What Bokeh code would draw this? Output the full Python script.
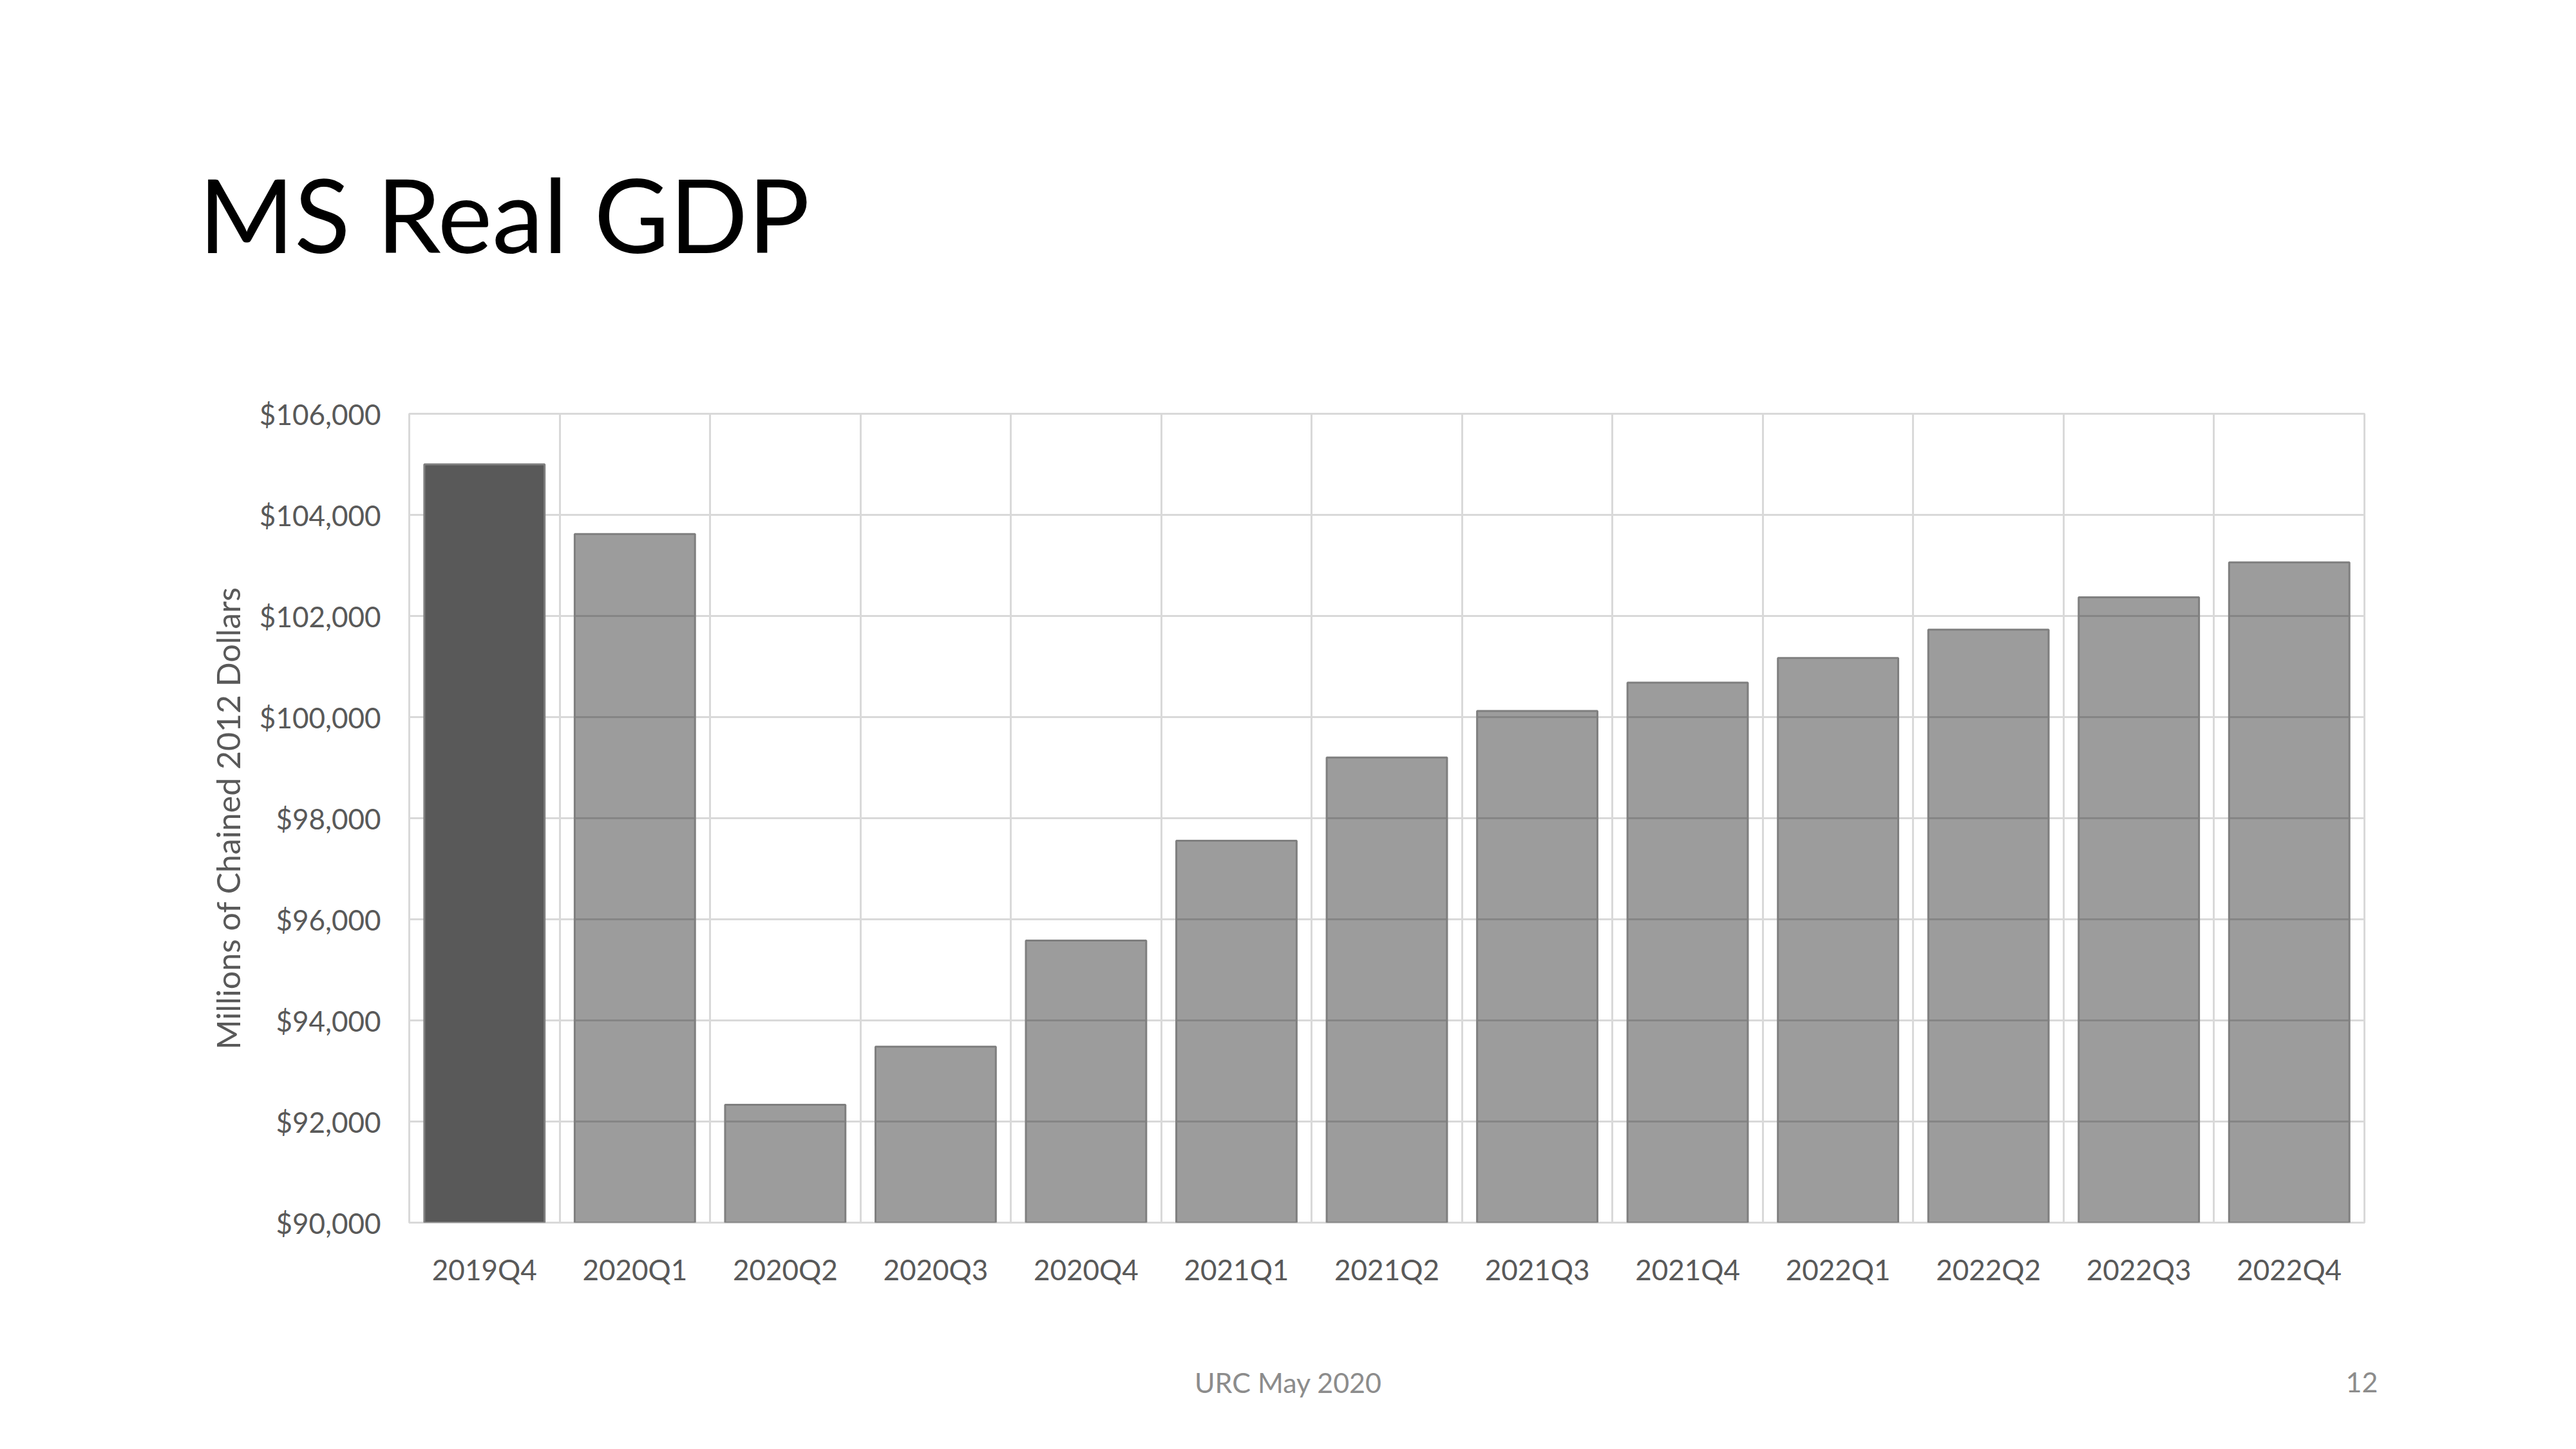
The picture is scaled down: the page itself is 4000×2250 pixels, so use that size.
from bokeh.plotting import figure
from bokeh.models import ColumnDataSource, Range1d, FixedTicker, NumeralTickFormatter, Label
from bokeh.embed import file_html
from bokeh.resources import INLINE

# data
quarters = ["2019Q4", "2020Q1", "2020Q2", "2020Q3", "2020Q4", "2021Q1", "2021Q2",
            "2021Q3", "2021Q4", "2022Q1", "2022Q2", "2022Q3", "2022Q4"]
gdp = [105000, 103620, 92330, 93480, 95580, 97555, 99200,
       100120, 100680, 101170, 101730, 102370, 103060]
actual_quarters = ["2019Q4"]
y_ticks = [90000, 92000, 94000, 96000, 98000, 100000, 102000, 104000, 106000]

title_text = "MS Real GDP"
y_title = "Millions of Chained 2012 Dollars"
footer_text = "URC May 2020"
slide_number = "12"

# layout (canvas pixels)
W, H = 3984, 2234
FRAME_L, FRAME_T, FRAME_R, FRAME_B = 635, 642, 3671, 1898
FONT = "Lato"
GRID = "#d9d9d9"
TXT = "#595959"

y_lo, y_hi = y_ticks[0], y_ticks[-1]

fills = ["#595959" if q in actual_quarters else "black" for q in quarters]
alphas = [1.0 if q in actual_quarters else 0.39 for q in quarters]
source = ColumnDataSource(data=dict(quarter=quarters, gdp=gdp, fill=fills, alpha=alphas))

p = figure(width=W, height=H, x_range=quarters, y_range=Range1d(y_lo, y_hi),
           output_backend="svg", toolbar_location=None,
           min_border_left=FRAME_L, min_border_right=W - FRAME_R,
           min_border_top=FRAME_T, min_border_bottom=H - FRAME_B)
p.background_fill_color = "white"
p.border_fill_color = "white"
p.outline_line_color = GRID
p.outline_line_width = 3

p.vbar(x="quarter", top="gdp", bottom=y_lo, width=0.8, source=source,
       fill_color="fill", fill_alpha="alpha", line_color="#7f7f7f", line_width=3)

p.ygrid.ticker = FixedTicker(ticks=y_ticks)
p.ygrid.grid_line_color = GRID
p.ygrid.grid_line_width = 3
p.xgrid.ticker = FixedTicker(ticks=list(range(len(quarters) + 1)))
p.xgrid.grid_line_color = GRID
p.xgrid.grid_line_width = 3

p.yaxis.ticker = FixedTicker(ticks=y_ticks)
p.yaxis.formatter = NumeralTickFormatter(format="$0,0")
p.yaxis.axis_label = y_title
p.yaxis.axis_label_text_font = FONT
p.yaxis.axis_label_text_font_size = "50px"
p.yaxis.axis_label_text_font_style = "normal"
p.yaxis.axis_label_text_color = TXT
p.yaxis.axis_label_standoff = 16
p.yaxis.major_label_standoff = 44

p.xaxis.major_label_standoff = 46

for ax in (p.xaxis, p.yaxis):
    ax.axis_line_color = None
    ax.major_tick_line_color = None
    ax.minor_tick_line_color = None
    ax.major_tick_out = 0
    ax.major_tick_in = 0
    ax.major_label_text_font = FONT
    ax.major_label_text_font_size = "44px"
    ax.major_label_text_color = TXT

# slide texts, in canvas pixels; kept in side panels so the frame does not clip them
title = Label(x=308, y=330, x_units="canvas", y_units="canvas", text=title_text,
              text_font=FONT, text_font_size="160px", text_color="black",
              text_align="left", text_baseline="alphabetic")
footer = Label(x=2000, y=2146, x_units="canvas", y_units="canvas", text=footer_text,
               text_font=FONT, text_font_size="43px", text_color="#8c8c8c",
               text_align="center", text_baseline="alphabetic")
page_no = Label(x=3692, y=2146, x_units="canvas", y_units="canvas", text=slide_number,
                text_font=FONT, text_font_size="43px", text_color="#8c8c8c",
                text_align="right", text_baseline="alphabetic")
p.add_layout(title, "above")
p.add_layout(footer, "below")
p.add_layout(page_no, "below")

open("out.html", "w").write(file_html(p, INLINE))
